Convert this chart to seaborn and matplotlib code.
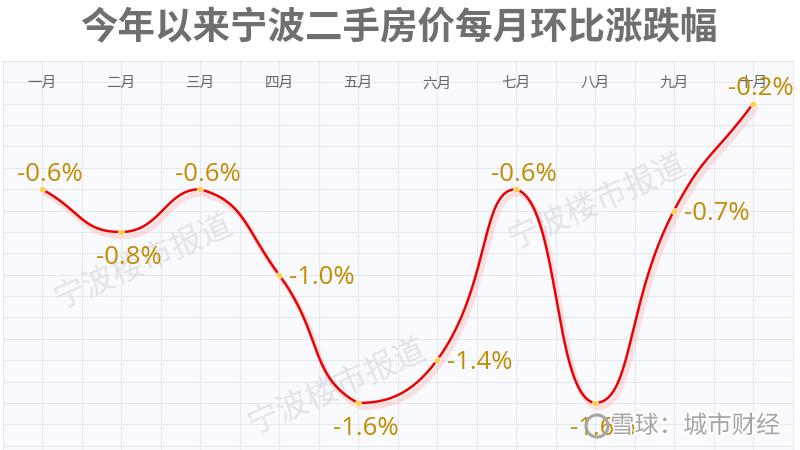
import numpy as np
import pandas as pd
import matplotlib
matplotlib.use('Agg')
import matplotlib.pyplot as plt
import matplotlib.transforms as mtransforms
from matplotlib import patheffects as pe
from matplotlib.patches import Circle
import seaborn as sns

# ---- data ----
title = '今年以来宁波二手房价每月环比涨跌幅'
months = ['一月', '二月', '三月', '四月', '五月', '六月', '七月', '八月', '九月', '十月']
change = [-0.6, -0.8, -0.6, -1.0, -1.6, -1.4, -0.6, -1.6, -0.7, -0.2]
label_pos = ['top', 'bottom', 'top', 'right', 'bottom', 'right', 'top', 'bottom', 'right', 'top']
watermark = '宁波楼市报道'
source = '雪球：城市财经'

sns.set_theme(style='white')
plt.rcParams['font.family'] = ['Noto Sans CJK SC', 'DejaVu Sans']

W, H = 800, 450
fig = plt.figure(figsize=(8, 4.5), dpi=100)
fig.patch.set_facecolor('white')
ax = fig.add_axes([2.5 / W, 0, 790 / W, 389 / H])
ax.set_facecolor('#f9fafd')
ax.set_xlim(-0.5, 9.5)
ax.set_ylim(-1.82, 0)
ax.set_xticks(np.arange(-0.5, 9.6, 0.5))
ax.set_yticks(np.arange(-1.8, 0.01, 0.1))
ax.grid(True, color='#e5e8ef', lw=0.8)
ax.set_axisbelow(True)
ax.tick_params(length=0, labelbottom=False, labelleft=False)
for s in ax.spines.values():
    s.set_color('#e5e8ef')
    s.set_linewidth(0.8)

df = pd.DataFrame({'month': months, 'idx': np.arange(len(months)), 'change': change})

# ---- smooth curve (echarts-like bezier smoothing, computed in pixel space) ----
P = ax.transData.transform(np.column_stack([df['idx'], df['change']]))
n = len(P)
smooth = 0.5
cp_in = np.zeros_like(P)
cp_out = np.zeros_like(P)
for i in range(n):
    p = P[i]
    prev = P[i - 1] if i > 0 else P[i]
    nxt = P[i + 1] if i < n - 1 else P[i]
    v = nxt - prev
    l0 = np.hypot(*(p - prev))
    l1 = np.hypot(*(nxt - p))
    tot = l0 + l1
    r = l1 / tot if tot > 0 else 0.5
    ci = p - v * smooth * (1 - r)
    co = p + v * smooth * r
    ci = np.clip(ci, np.minimum(prev, p), np.maximum(prev, p))
    co = np.clip(co, np.minimum(nxt, p), np.maximum(nxt, p))
    cp_in[i] = ci
    cp_out[i] = co
t = np.linspace(0, 1, 40)[:, None]
segs = []
for i in range(n - 1):
    a, b, c, d = P[i], cp_out[i], cp_in[i + 1], P[i + 1]
    seg = ((1 - t) ** 3) * a + 3 * ((1 - t) ** 2) * t * b + 3 * (1 - t) * t ** 2 * c + t ** 3 * d
    segs.append(seg if i == 0 else seg[1:])
curve_px = np.vstack(segs)
curve = ax.transData.inverted().transform(curve_px)
curve_df = pd.DataFrame({'x': curve[:, 0], 'y': curve[:, 1]})

sns.lineplot(data=curve_df, x='x', y='y', sort=False, estimator=None, ax=ax,
             color='#ee0000', lw=1.8, zorder=3,
             path_effects=[pe.SimpleLineShadow(offset=(2, -3.2), shadow_color='#ff9a9a',
                                               alpha=0.28, linewidth=3.8),
                           pe.Normal()])
sns.scatterplot(data=df, x='idx', y='change', ax=ax, color='#ffcf4a', s=20,
                edgecolor='white', linewidth=0.4, zorder=5)
ax.set_xlabel('')
ax.set_ylabel('')

# ---- data labels ----
lab_kw = dict(fontsize=18.5, color='#c28d00', family=['Open Sans', 'DejaVu Sans'], zorder=6)
for i, (v, pos) in enumerate(zip(change, label_pos)):
    txt = f'{v:.1f}%'
    if pos == 'top':
        ax.annotate(txt, (i, v), xytext=(5.5, 6), textcoords='offset points',
                    ha='center', va='baseline', **lab_kw)
    elif pos == 'bottom':
        ax.annotate(txt, (i, v), xytext=(5.5, -23), textcoords='offset points',
                    ha='center', va='baseline', **lab_kw)
    else:
        ax.annotate(txt, (i, v), xytext=(7, -6.5), textcoords='offset points',
                    ha='left', va='baseline', **lab_kw)

# ---- month labels inside plot top ----
trans = mtransforms.blended_transform_factory(ax.transData, ax.transAxes)
for i, m in enumerate(months):
    ax.text(i, 0.943, m, transform=trans, ha='center', va='center',
            fontsize=10.5, color='#666666', zorder=4)

# ---- title ----
fig.text(0.498, 1 - 27 / H, title, ha='center', va='center', fontsize=27,
         fontweight='bold', color='#6f6f6f')

# ---- watermarks ----
for cx, cy in [(143, 262), (337, 387), (597, 202)]:
    ax.text(cx / W, 1 - cy / H, watermark, transform=fig.transFigure, rotation=24,
            ha='center', va='center', fontsize=23, color='#d9dce2', alpha=0.75, zorder=1)

fig.text(695 / W, 1 - 426 / H, source, ha='center', va='center', fontsize=17.5,
         color='#a5a5a5',
         path_effects=[pe.withStroke(linewidth=2.5, foreground='white')], zorder=10)
ring = Circle((597, H - 426), 11, transform=None, fill=False, ec='#a5a5a5', lw=2.2, zorder=10)
fig.add_artist(ring)

fig.savefig('out.png', dpi=100)
